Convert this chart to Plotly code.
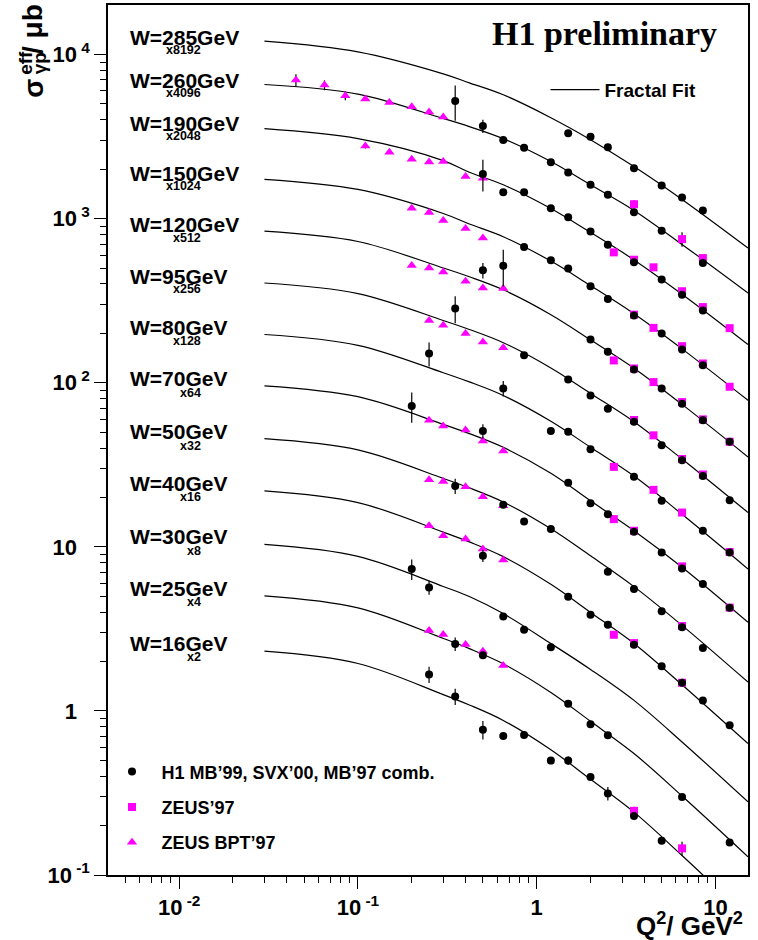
import math
import plotly.graph_objects as go

# ---------------------------------------------------------------
# DATA  (sigma values are the plotted, already-scaled values, in microbarn)
# ---------------------------------------------------------------
w_labels = ["W=285GeV", "W=260GeV", "W=190GeV", "W=150GeV", "W=120GeV", "W=95GeV",
            "W=80GeV", "W=70GeV", "W=50GeV", "W=40GeV", "W=30GeV", "W=25GeV", "W=16GeV"]
w_scales = ["x8192", "x4096", "x2048", "x1024", "x512", "x256",
            "x128", "x64", "x32", "x16", "x8", "x4", "x2"]

# H1 MB'99, SVX'00, MB'97 combined
h1_q2 = [1.5, 2.0, 2.5, 3.5, 5.0, 6.5, 8.5,                                   # W=285
         0.35, 0.5, 0.65, 0.85, 1.2, 1.5, 2.0, 2.5, 3.5, 5.0, 8.5,            # W=260
         0.5, 0.65, 0.85, 1.2, 1.5, 2.0, 2.5, 3.5, 5.0, 6.5, 8.5,             # W=190
         0.85, 1.2, 1.5, 2.0, 2.5, 3.5, 5.0, 6.5, 8.5,                        # W=150
         0.5, 0.65, 2.0, 2.5, 3.5, 5.0, 6.5, 8.5, 12,                         # W=120
         0.35, 0.85, 1.5, 2.0, 2.5, 3.5, 5.0, 6.5, 8.5, 12,                   # W=95
         0.25, 0.65, 1.2, 1.5, 2.0, 3.5, 5.0, 8.5, 12,                        # W=80
         0.2, 0.5, 1.5, 2.0, 2.5, 3.5, 5.0, 6.5, 8.5, 12,                     # W=70
         0.35, 0.65, 0.85, 1.2, 2.5, 3.5, 5.0, 6.5, 8.5,                      # W=50
         0.5, 1.5, 2.0, 2.5, 3.5, 5.0, 6.5, 8.5, 12,                          # W=40
         0.2, 0.25, 0.65, 0.85, 1.2,                                          # W=30
         0.35, 0.5, 1.5, 2.0, 2.5, 6.5, 12,                                   # W=25
         0.25, 0.35, 0.5, 0.65, 0.85, 1.2, 1.5, 2.0, 2.5, 3.5, 5.0]           # W=16
h1_sigma = [3309, 3160, 2720, 2027, 1591, 1345, 1121,
            5208, 3669, 3017, 2708, 2204, 1909, 1607, 1397, 1095, 844, 536,
            1874, 1448, 1448, 1158, 1021, 835, 694, 543, 425, 344, 276,
            671, 557, 496, 387, 324, 257, 199.5, 159.4, 128,
            484, 517, 183.4, 154.2, 120.5, 92.3, 74.4, 59.0, 43.7,
            283.1, 147.2, 104.8, 83.7, 69.4, 57.9, 41.6, 33.7, 27.05, 19.25,
            150.8, 92.3, 50.8, 50.3, 39.3, 26.7, 19.06, 12.53, 9.24,
            72.1, 50.8, 24.6, 18.46, 15.82, 12.35, 9.24, 7.39, 5.94, 4.26,
            23.5, 18.03, 14.27, 12.83, 7.06, 5.54, 4.05, 3.23, 2.42,
            8.83, 4.97, 3.85, 3.345, 2.53, 1.874, 1.485, 1.159, 0.817,
            7.33, 5.66, 3.76, 3.12, 2.44,
            2.56, 2.18, 1.107, 0.828, 0.710, 0.2993, 0.158,
            1.668, 1.226, 0.769, 0.703, 0.713, 0.498, 0.498, 0.396, 0.314, 0.229, 0.1617]
h1_err = [90, 0, 0, 0, 0, 0, 0,
          1260, 340, 0, 0, 0, 0, 0, 0, 0, 0, 0,
          410, 40, 0, 0, 0, 0, 25, 0, 0, 0, 0,
          0, 0, 0, 0, 0, 0, 0, 0, 0,
          53, 130, 0, 0, 0, 0, 0, 0, 0,
          53, 0, 0, 0, 0, 0, 0, 0, 0, 0,
          25, 10, 0, 0, 0, 0, 0, 0, 0,
          15, 5, 0, 0, 0, 0, 0, 0, 0, 0,
          2.5, 0, 0, 0, 0, 0, 0, 0, 0,
          0.75, 0, 0, 0, 0, 0, 0, 0, 0,
          1.05, 0.55, 0, 0, 0,
          0.24, 0.1, 0, 0, 0, 0, 0,
          0.19, 0.14, 0.1, 0.03, 0, 0, 0.03, 0, 0.03, 0, 0]

# ZEUS'97
zeus_q2 = [3.5, 6.5, 8.5,                      # W=260
           2.7, 3.5, 4.5, 6.5, 8.5, 12,        # W=190
           3.5, 4.5, 6.5, 8.5, 12,             # W=150
           2.7, 3.5, 4.5, 6.5, 8.5, 12,        # W=120
           3.5, 4.5, 6.5, 8.5,                 # W=95
           2.7, 4.5, 6.5, 12,                  # W=80
           2.7, 3.5, 6.5, 12,                  # W=70
           6.5,                                # W=50
           2.7, 3.5, 6.5,                      # W=40
           3.5, 6.5]                           # W=16
zeus_sigma = [1224, 750, 575,
              623, 562, 505, 361, 289, 215,
              260, 216, 167, 131, 94.5,
              136.7, 122.2, 100.9, 76.2, 59.8, 43.7,
              59.3, 47.8, 34.3, 27.6,
              30.7, 22.24, 16.18, 9.3,
              14.75, 12.53, 7.60, 4.26,
              3.29,
              2.91, 2.59, 1.485,
              0.246, 0.1453]
zeus_err = [70, 75, 0,
            0, 0, 0, 0, 0, 10,
            0, 0, 0, 0, 0,
            0, 0, 0, 0, 0, 0,
            0, 0, 0, 0,
            0, 0, 0, 0,
            0, 0, 0, 0,
            0,
            0, 0, 0,
            0.015, 0.014]

# ZEUS BPT'97
bpt_q2 = [0.045, 0.065, 0.085, 0.11, 0.15, 0.2, 0.25, 0.3,   # W=260
          0.11, 0.15, 0.2, 0.25, 0.3, 0.4, 0.5,              # W=190
          0.2, 0.25, 0.3, 0.4, 0.5,                          # W=150
          0.2, 0.25, 0.3, 0.4, 0.5, 0.65,                    # W=120
          0.25, 0.3, 0.4, 0.5, 0.65,                         # W=95
          0.25, 0.3, 0.4, 0.5, 0.65,                         # W=70
          0.25, 0.3, 0.4, 0.5, 0.65,                         # W=50
          0.25, 0.3, 0.4, 0.5, 0.65,                         # W=40
          0.25, 0.3, 0.4, 0.5, 0.65]                         # W=25
bpt_sigma = [6989, 6514, 5610, 5356, 5107, 4809, 4464, 4163,
             2773, 2536, 2299, 2217, 2227, 1805, 1762,
             1158, 1090, 974, 871, 761,
             519, 500, 472.5, 414.8, 377.8, 374.6,
             239.3, 224.1, 199.5, 177.4, 163.1,
             59.0, 54.5, 51.5, 44.2, 38.4,
             25.6, 25.0, 23.2, 20.2, 17.77,
             13.43, 11.68, 11.15, 9.69, 8.31,
             3.09, 2.92, 2.54, 2.31, 1.89]
bpt_err = [600, 450, 350, 0, 0, 0, 0, 0,
           100, 0, 0, 0, 0, 0, 0,
           0, 0, 0, 0, 0,
           0, 0, 0, 0, 0, 0,
           0, 0, 0, 0, 0,
           0, 0, 0, 0, 0,
           0, 0, 0, 0, 0,
           0, 0, 0, 0, 0,
           0, 0, 0, 0, 0]

# Fractal fit curves at these Q2 nodes
fit_q2 = [0.03, 0.1, 0.3, 0.42, 0.65, 1.2, 2.0, 3.5, 6.5, 15.2]
fit_w285 = [12060, 10385, 7631, 6727, 5689, 4123, 3029, 2076, 1308, 661.4]
fit_w260 = [6570, 5744, 4077, 3639, 3072, 2227, 1609, 1123, 696.6, 352.3]
fit_w190 = [3533, 3072, 2258, 1917, 1609, 1153, 823.6, 560.5, 346.4, 171.0]
fit_w150 = [1737, 1506, 1075, 927.9, 775.8, 551.2, 390.7, 263.2, 160.8, 78.07]
fit_w120 = [839, 725.3, 500.4, 442.4, 368.4, 259.9, 182.6, 122.7, 73.8, 35.3]
fit_w95 = [405.2, 349.3, 239.6, 211.2, 175.4, 123.1, 86.1, 57.9, 34.3, 16.18]
fit_w80 = [196.7, 169.1, 115.1, 101.2, 83.6, 58.2, 40.4, 26.98, 15.78, 7.33]
fit_w70 = [95.8, 82.2, 55.8, 48.98, 40.4, 28.05, 19.06, 12.53, 7.51, 3.47]
fit_w50 = [45.6, 38.98, 26.12, 22.87, 18.77, 12.88, 8.81, 5.72, 3.32, 1.497]
fit_w40 = [21.93, 18.61, 12.30, 10.71, 8.71, 5.905, 3.985, 2.575, 1.444, 0.632]
fit_w30 = [10.34, 8.75, 5.735, 4.985, 3.918, 2.575, 1.789, 1.159, 0.647, 0.279]
fit_w25 = [5.02, 4.245, 2.765, 2.397, 1.937, 1.296, 0.864, 0.550, 0.303, 0.1292]
fit_w16 = [2.311, 1.945, 1.257, 1.087, 0.875, 0.580, 0.383, 0.2416, 0.1314, 0.0550]
fit_curves = [fit_w285, fit_w260, fit_w190, fit_w150, fit_w120, fit_w95, fit_w80,
              fit_w70, fit_w50, fit_w40, fit_w30, fit_w25, fit_w16]

# ---------------------------------------------------------------
# LAYOUT helpers (pixel -> paper)
# ---------------------------------------------------------------
W, H = 758, 940
ML, MR, MT, MB = 108, 10, 3, 65
PW, PH = W - ML - MR, H - MT - MB


def px(xp):
    return (xp - ML) / PW


def py(yp):
    return (MT + PH - yp) / PH


SANS = "Liberation Sans, Arial, Helvetica, sans-serif"
SERIF = "Liberation Serif, Times New Roman, serif"
MAGENTA = "#ff00ff"

fig = go.Figure()

for i, curve in enumerate(fit_curves):
    fig.add_trace(go.Scatter(
        x=fit_q2, y=curve, mode="lines", line=dict(color="black", width=1.2, shape="spline"),
        name="Fractal Fit", legend="legend2", showlegend=(i == 0), hoverinfo="skip"))

fig.add_trace(go.Scatter(
    x=bpt_q2, y=bpt_sigma, mode="markers", name="ZEUS BPT\u201997",
    marker=dict(symbol="triangle-up", size=9, color=MAGENTA, line=dict(width=0)),
    error_y=dict(type="data", array=bpt_err, color="black", thickness=1.2, width=0),
    legendgroup="bpt", legendrank=3))

fig.add_trace(go.Scatter(
    x=zeus_q2, y=zeus_sigma, mode="markers", name="ZEUS\u201997",
    marker=dict(symbol="square", size=8, color=MAGENTA, line=dict(width=0)),
    error_y=dict(type="data", array=zeus_err, color="black", thickness=1.2, width=0),
    legendgroup="zeus", legendrank=2))

fig.add_trace(go.Scatter(
    x=h1_q2, y=h1_sigma, mode="markers", name="H1 MB\u201999, SVX\u201900, MB\u201997 comb.",
    marker=dict(symbol="circle", size=8, color="black", line=dict(width=0)),
    error_y=dict(type="data", array=h1_err, color="black", thickness=1.2, width=0),
    legendgroup="h1", legendrank=1))

NB = "\u00a0"
ytickvals = [0.1, 1, 10, 100, 1000, 10000]
yticktext = ["10<sup>" + NB + "-1</sup>", "1<sup>" + NB * 3 + "</sup>", "10<sup>" + NB * 3 + "</sup>",
             "10<sup>" + NB + "2</sup>", "10<sup>" + NB + "3</sup>", "10<sup>" + NB + "4</sup>"]
xtickvals = [0.01, 0.1, 1, 10]
xticktext = ["10<sup>" + NB + "-2</sup>", "10<sup>" + NB + "-1</sup>", "1", "10"]

xminor = [m * 10.0 ** k for k in range(-3, 2) for m in range(2, 10) if 0.0041 < m * 10.0 ** k < 15.2]
yminor = [m * 10.0 ** k for k in range(-1, 5) for m in range(2, 10) if m * 10.0 ** k < 19000]

axis_common = dict(type="log", showgrid=False, zeroline=False, showline=True, linecolor="black",
                   linewidth=1.5, mirror=True, ticks="outside", ticklen=12, tickwidth=1,
                   tickcolor="black", tickmode="array",
                   tickfont=dict(family=SANS, size=22, color="black", weight="bold"))

fig.update_xaxes(range=[math.log10(0.004), math.log10(15.2)], tickvals=xtickvals, ticktext=xticktext,
                 minor=dict(tickmode="array", tickvals=xminor, ticks="outside", ticklen=6,
                            tickwidth=1, tickcolor="black", showgrid=False),
                 **axis_common)
fig.update_yaxes(range=[-1, 4.302], tickvals=ytickvals, ticktext=yticktext,
                 minor=dict(tickmode="array", tickvals=yminor, ticks="outside", ticklen=6,
                            tickwidth=1, tickcolor="black", showgrid=False),
                 **axis_common)

# W labels and scale factors
label_y_px = [35.5, 78.8, 122, 172, 223, 275.5, 326, 377.5, 430.5, 483, 536, 588, 643]
scale_y_px = [48, 91, 134.5, 184, 236.7, 287.5, 340, 391.5, 445, 496, 550.5, 601, 656]
ann = []
for lab, sc, ly, sy in zip(w_labels, w_scales, label_y_px, scale_y_px):
    ann.append(dict(x=px(128), y=py(ly), xref="paper", yref="paper", text=lab, showarrow=False,
                    xanchor="left", yanchor="middle",
                    font=dict(family=SANS, size=21, color="black", weight="bold")))
    ann.append(dict(x=px(203), y=py(sy), xref="paper", yref="paper", text=sc, showarrow=False,
                    xanchor="right", yanchor="middle",
                    font=dict(family=SANS, size=12.5, color="black", weight="bold")))

ann.append(dict(x=px(719), y=py(32), xref="paper", yref="paper", text="H1 preliminary",
                showarrow=False, xanchor="right", yanchor="middle",
                font=dict(family=SERIF, size=34, color="black", weight="bold")))

ann.append(dict(x=px(745), y=py(925), xref="paper", yref="paper",
                text="Q<sup>2</sup>/ GeV<sup>2</sup>", showarrow=False, xanchor="right",
                yanchor="middle", font=dict(family=SANS, size=26, color="black", weight="bold")))

# y axis title sigma^eff_{gamma p} / mu b (rotated)
ytitle_font = dict(family=SANS, color="black", weight="bold")
ann.append(dict(x=px(34), y=py(87), xref="paper", yref="paper", text="\u03c3", showarrow=False,
                textangle=-90, xanchor="center", yanchor="middle", font=dict(size=28, **ytitle_font)))
ann.append(dict(x=px(25.5), y=py(61.5), xref="paper", yref="paper", text="eff", showarrow=False,
                textangle=-90, xanchor="center", yanchor="middle", font=dict(size=19, **ytitle_font)))
ann.append(dict(x=px(39), y=py(61.5), xref="paper", yref="paper", text="\u03b3p", showarrow=False,
                textangle=-90, xanchor="center", yanchor="middle", font=dict(size=19, **ytitle_font)))
ann.append(dict(x=px(33), y=py(27), xref="paper", yref="paper", text="/ \u03bcb", showarrow=False,
                textangle=-90, xanchor="center", yanchor="middle", font=dict(size=28, **ytitle_font)))

fig.update_layout(
    width=W, height=H, margin=dict(l=ML, r=MR, t=MT, b=MB),
    paper_bgcolor="white", plot_bgcolor="white",
    annotations=ann,
    legend=dict(x=px(102.5), y=py(753), xanchor="left", yanchor="top", bgcolor="rgba(0,0,0,0)",
                traceorder="grouped", tracegroupgap=9, itemwidth=49,
                font=dict(family=SANS, size=18, color="black", weight="bold")),
    legend2=dict(x=px(545.5), y=py(69), xanchor="left", yanchor="top", bgcolor="rgba(0,0,0,0)",
                 itemwidth=49,
                 font=dict(family=SANS, size=19, color="black", weight="bold")),
)

fig.write_html("out.html", config={"displayModeBar": False},
               post_script="document.body.style.margin='0px';document.body.style.overflow='hidden';")
